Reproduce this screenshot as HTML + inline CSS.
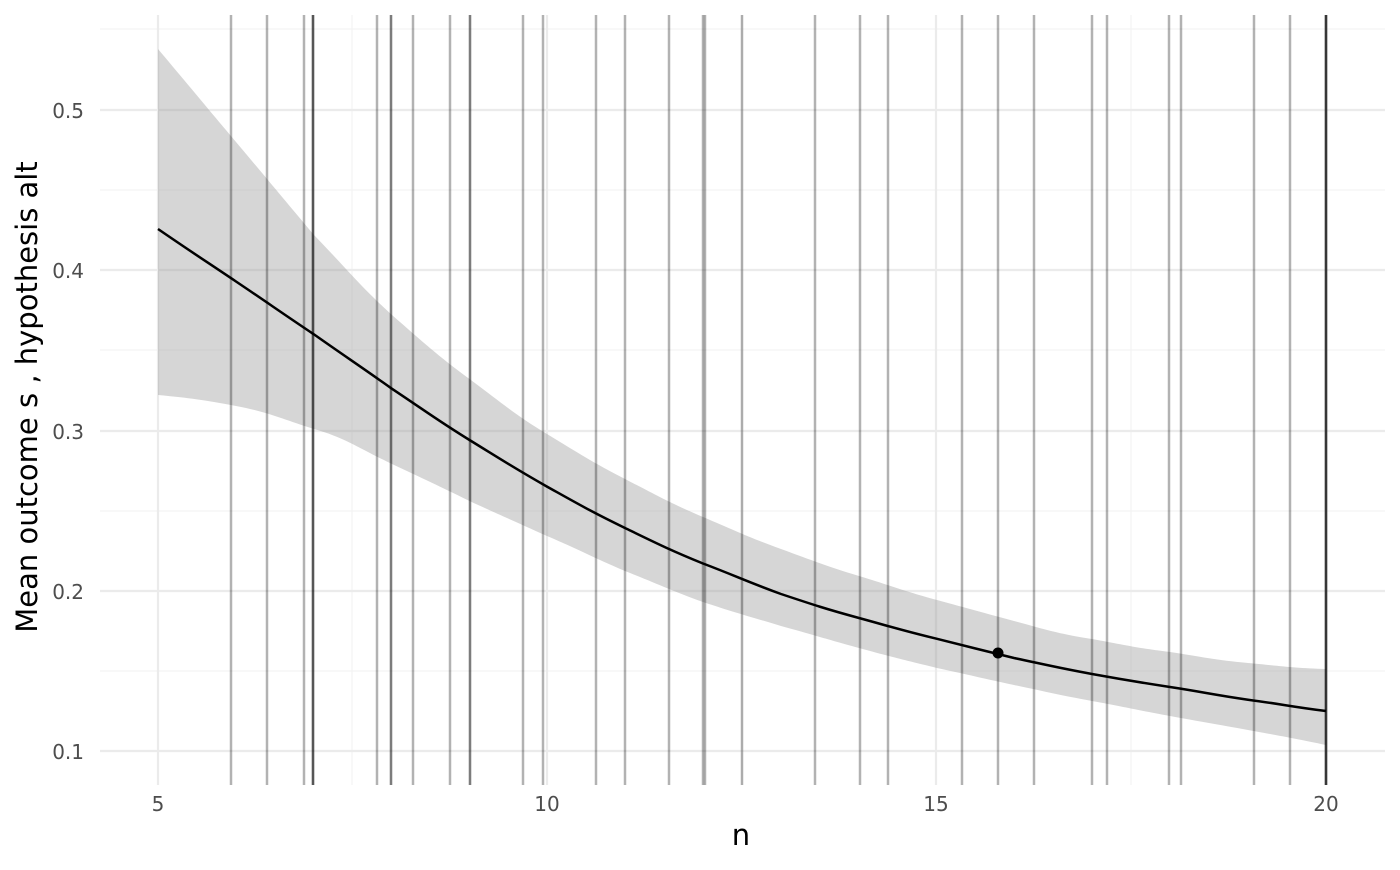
<!DOCTYPE html>
<html><head><meta charset="utf-8"><style>body{margin:0;background:#fff}</style></head><body>
<svg width="1400" height="865" xmlns="http://www.w3.org/2000/svg" font-family="DejaVu Sans, Liberation Sans, sans-serif">
<rect width="1400" height="865" fill="#fff"/>
<g stroke="#f3f3f3" stroke-width="1.2">
<line x1="100" x2="1385" y1="671" y2="671"/><line x1="100" x2="1385" y1="511" y2="511"/><line x1="100" x2="1385" y1="350" y2="350"/><line x1="100" x2="1385" y1="190" y2="190"/><line x1="100" x2="1385" y1="29" y2="29"/>
<line y1="15" y2="785" x1="352" x2="352"/><line y1="15" y2="785" x1="742" x2="742"/><line y1="15" y2="785" x1="1131" x2="1131"/>
</g>
<g stroke="#ebebeb" stroke-width="2.2">
<line x1="100" x2="1385" y1="751" y2="751"/><line x1="100" x2="1385" y1="591" y2="591"/><line x1="100" x2="1385" y1="431" y2="431"/><line x1="100" x2="1385" y1="270" y2="270"/><line x1="100" x2="1385" y1="110" y2="110"/>
<line y1="15" y2="785" x1="158" x2="158"/><line y1="15" y2="785" x1="547" x2="547"/><line y1="15" y2="785" x1="936" x2="936"/><line y1="15" y2="785" x1="1326" x2="1326"/>
</g>
<path fill="#999" fill-opacity="0.4" stroke="none" d="M158,49 C190,87 204,104 236,142 C268,180 282,197 314,235 C346,268 360,286 392,315 C424,343 437,355 469.5,379 C502,403 514,414 547,434 C580,454 592,462 625,479 C658,496 670,503 703,517 C736,531 748,537 781,549 C814,561 826,566 859,576 C892,586 904,591 937,600 C970,609 981,612 1014,621 C1047,630 1059,634 1092,639 C1125,645 1137,648 1170,652 C1203,657 1215,660 1248,663 C1281,666 1293,668 1326,669 L1326,745 C1293,738 1281,736 1248,730 C1215,724 1203,722 1170,716 C1137,710 1125,707 1092,701 C1059,695 1047,692 1014,685 C981,678 970,675 937,668 C904,660 892,657 859,648 C826,639 814,635 781,626 C748,616 736,613 703,602 C670,590 658,584 625,571 C592,557 580,550 547,536 C514,521 502,516 469.5,501 C437,485 424,479 392,464 C360,449 346,438 314,429 C282,419 268,412 236,406 C204,400 190,398 158,395 Z"/>
<g stroke="#000" stroke-opacity="0.3" stroke-width="2.5">
<line y1="15" y2="785" x1="231" x2="231"/><line y1="15" y2="785" x1="267" x2="267"/><line y1="15" y2="785" x1="304" x2="304"/>
<line y1="15" y2="785" x1="313" x2="313"/><line y1="15" y2="785" x1="313" x2="313"/><line y1="15" y2="785" x1="313" x2="313"/>
<line y1="15" y2="785" x1="377" x2="377"/><line y1="15" y2="785" x1="391" x2="391"/><line y1="15" y2="785" x1="391" x2="391"/>
<line y1="15" y2="785" x1="413" x2="413"/><line y1="15" y2="785" x1="450" x2="450"/><line y1="15" y2="785" x1="470" x2="470"/><line y1="15" y2="785" x1="470" x2="470"/>
<line y1="15" y2="785" x1="523" x2="523"/><line y1="15" y2="785" x1="543" x2="543"/><line y1="15" y2="785" x1="596" x2="596"/><line y1="15" y2="785" x1="625" x2="625"/>
<line y1="15" y2="785" x1="669" x2="669"/><line y1="15" y2="785" x1="703" x2="703"/><line y1="15" y2="785" x1="705" x2="705"/><line y1="15" y2="785" x1="742" x2="742"/>
<line y1="15" y2="785" x1="815" x2="815"/><line y1="15" y2="785" x1="860" x2="860"/><line y1="15" y2="785" x1="888" x2="888"/><line y1="15" y2="785" x1="962" x2="962"/>
<line y1="15" y2="785" x1="998" x2="998"/><line y1="15" y2="785" x1="1034" x2="1034"/><line y1="15" y2="785" x1="1092" x2="1092"/><line y1="15" y2="785" x1="1107" x2="1107"/>
<line y1="15" y2="785" x1="1169" x2="1169"/><line y1="15" y2="785" x1="1181" x2="1181"/><line y1="15" y2="785" x1="1254" x2="1254"/><line y1="15" y2="785" x1="1290" x2="1290"/>
<line y1="15" y2="785" x1="1326" x2="1326"/><line y1="15" y2="785" x1="1326" x2="1326"/><line y1="15" y2="785" x1="1326" x2="1326"/><line y1="15" y2="785" x1="1326" x2="1326"/>
</g>
<path fill="none" stroke="#000" stroke-width="2.5" d="M158,229 C190,251 204,260 236,281.5 C268,303 282,313 314,334.4 C346,357 360,366 392,388.8 C424,410 437,420 469.5,440 C502,460 514,468 547,486.6 C580,505 592,512 625,528 C658,544 670,550 703,563.5 C736,576 748,582 781,594 C814,605 826,609 859,618 C892,627 904,631 937,638.8 C970,647 981,650 1014,658 C1047,665 1059,668 1092,674 C1125,680 1137,682 1170,687 C1203,692 1215,695 1248,699.7 C1281,704 1293,707 1326,711"/>
<circle cx="998" cy="653" r="5.5" fill="#000"/>
<g fill="#4d4d4d" font-size="20" text-anchor="end">
<text x="84" y="118">0.5</text><text x="84" y="278">0.4</text><text x="84" y="439">0.3</text><text x="84" y="599">0.2</text><text x="84" y="759">0.1</text>
</g>
<g fill="#4d4d4d" font-size="20" text-anchor="middle">
<text x="158" y="811">5</text><text x="547" y="811">10</text><text x="936" y="811">15</text><text x="1326" y="811">20</text>
</g>
<text x="741" y="845" font-size="29" text-anchor="middle">n</text>
<text transform="translate(37,397) rotate(-90)" font-size="29" text-anchor="middle">Mean outcome s , hypothesis alt</text>
</svg>
</body></html>
